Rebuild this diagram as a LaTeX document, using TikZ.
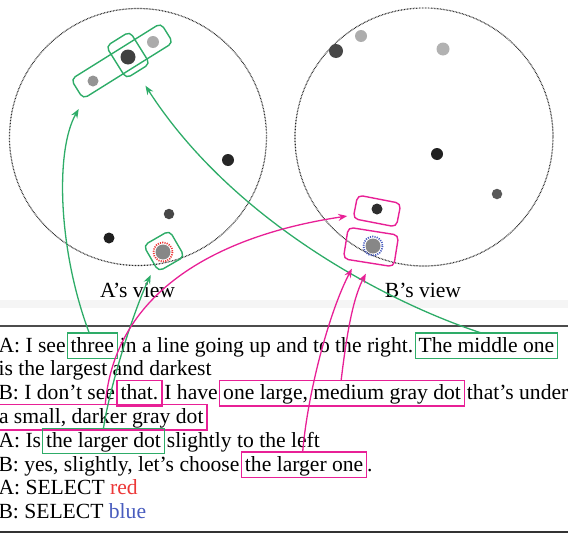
\documentclass[tikz,border=0pt]{standalone}
\usepackage{fontspec}
\setmainfont{Liberation Serif}
\usetikzlibrary{arrows.meta}
\definecolor{refgreen}{RGB}{46,172,104}
\definecolor{refmag}{RGB}{232,32,150}
\definecolor{selred}{RGB}{236,56,56}
\definecolor{selblue}{RGB}{72,92,190}

\begin{document}
\begin{tikzpicture}[x=1pt,y=-1pt,
  dlg/.style={font=\fontsize{21.6}{24}\selectfont, inner sep=0pt, outer sep=0pt, anchor=base west},
  phrase/.style={dlg, draw, line width=1.3pt, inner xsep=3.5pt, inner ysep=3.5pt,
                 text height=15.5pt, text depth=3pt},
  gphrase/.style={phrase, draw=refgreen},
  mphrase/.style={phrase, draw=refmag},
  viewring/.style={draw=black!85, line width=1.2pt, dash pattern=on 0.7pt off 0.8pt},
  dot/.style={circle, inner sep=0pt, outer sep=0pt, minimum size=#1},
  abox/.style={draw=#1, line width=1.4pt, rounded corners=5pt, inner sep=0pt, rectangle},
  selring/.style={draw=#1, line width=1.8pt, dash pattern=on 1.1pt off 1.2pt},
  garrow/.style={draw=refgreen, line width=1.3pt, -{Stealth[length=9pt,width=7pt]}},
  marrow/.style={draw=refmag, line width=1.3pt, -{Stealth[length=9pt,width=7pt]}},
]
\useasboundingbox (0,0) rectangle (568,533);
\fill[black!4] (0,300) rectangle (568,308);

% the two views
\draw[viewring] (138,137) circle [radius=128.5];
\draw[viewring] (424,137) circle [radius=129];

% dots seen by A
\node[dot=11pt, fill=black!42] (a1) at (93,81) {};
\node[dot=15pt, fill=black!75] (a2) at (128,57) {};
\node[dot=12pt, fill=black!33] (a3) at (153,42) {};
\node[dot=12pt, fill=black!85] (a4) at (228,160) {};
\node[dot=10.5pt, fill=black!72] (a5) at (169,214) {};
\node[dot=11pt, fill=black!88] (a6) at (109,238) {};
\node[dot=15pt, fill=black!47] (a7) at (163,252) {};
\draw[selring=selred] (a7.center) circle [radius=9.5];

% dots seen by B
\node[dot=14pt, fill=black!72] (b1) at (336,51) {};
\node[dot=12pt, fill=black!32] (b2) at (361,36) {};
\node[dot=13pt, fill=black!30] (b3) at (443,49) {};
\node[dot=12pt, fill=black!87] (b4) at (437,154) {};
\node[dot=10.5pt, fill=black!65] (b5) at (497,194) {};
\node[dot=11pt, fill=black!82] (b6) at (377,209) {};
\node[dot=15pt, fill=black!47] (b7) at (373,246) {};
\draw[selring=selblue] (b7.center) circle [radius=9.5];

% referent boxes in the views
\node[abox=refgreen, rotate=32, minimum width=106pt, minimum height=23pt] (gl) at (122,61) {};
\node[abox=refgreen, rotate=32, minimum width=28pt, minimum height=38pt] (gm) at (128,55) {};
\node[abox=refgreen, rotate=30, minimum width=30pt, minimum height=30pt] (gr) at (164,251) {};
\node[abox=refmag, rotate=-11, minimum width=44pt, minimum height=24pt] (mu) at (377,211) {};
\node[abox=refmag, rotate=-9, minimum width=51pt, minimum height=32pt] (ml) at (371,247) {};

% view captions
\node[dlg, anchor=base] (alab) at (137.5,297) {A’s view};
\node[dlg, anchor=base] (blab) at (423,297) {B’s view};

% dialogue
\draw[black!70, line width=1.8pt] (0,326) -- (568,326);
\draw[black!80, line width=2pt] (0,531.5) -- (568,531.5);

\node[dlg] (t1a) at (-1.5,352) {A: I see};
\node[gphrase] (three) at ([xshift=1.5pt]t1a.base east) {three};
\node[dlg] (t1b) at ([xshift=2.5pt]three.base east) {in a line going up and to the right.};
\node[gphrase] (tmo) at ([xshift=2pt]t1b.base east) {The middle one};

\node[dlg] (t2) at (-1.5,375.8) {is the largest and darkest};

\node[dlg] (t3a) at (-1.5,399.6) {B: I don’t see};
\node[mphrase] (that) at ([xshift=2pt]t3a.base east) {that.};
\node[dlg] (t3b) at ([xshift=2.5pt]that.base east) {I have};
\node[mphrase] (olm) at ([xshift=2pt]t3b.base east) {one large, medium gray dot};
\node[dlg] (t3c) at ([xshift=2.5pt]olm.base east) {that’s under};

\node[mphrase] (asd) at (-4.5,423.4) {a small, darker gray dot};

\node[dlg] (t5a) at (-1.5,447.2) {A: Is};
\node[gphrase] (tld) at ([xshift=1.5pt]t5a.base east) {the larger dot};
\node[dlg] (t5b) at ([xshift=2.5pt]tld.base east) {slightly to the left};

\node[dlg] (t6a) at (-1.5,471) {B: yes, slightly, let’s choose};
\node[mphrase] (tlo) at ([xshift=2pt]t6a.base east) {the larger one};
\node[dlg] (t6b) at ([xshift=0.3pt]tlo.base east) {.};

\node[dlg] (t7) at (-1.5,494.8) {A: SELECT \textcolor{selred}{red}};
\node[dlg] (t8) at (-1.5,518.6) {B: SELECT \textcolor{selblue}{blue}};

% links from phrases to referents
\draw[garrow] ([xshift=-3pt]three.north) .. controls (58,250) and (55,150) .. ([shift={(-4.2pt,-9.2pt)}]gl.south west);
\draw[garrow] (tld.north) .. controls (110,385) and (134,310) .. ([shift={(-7.5pt,-2.5pt)}]gr.south west);
\draw[garrow] ([xshift=-5pt]tmo.north) .. controls (395,305) and (235,225) .. ([shift={(7pt,-14pt)}]gm.south);
\draw[marrow] ([xshift=4pt]asd.north) .. controls (115,290) and (220,235) .. ([shift={(-5.1pt,3.1pt)}]mu.south west);
\draw[marrow] ([xshift=-1.5pt]tlo.north) .. controls (308,390) and (330,310) .. ([shift={(-16.5pt,-5.2pt)}]ml.south);
\draw[marrow] ([xshift=-1pt]olm.north) .. controls (346,340) and (352,300) .. ([shift={(-2.5pt,-10.2pt)}]ml.south);
\end{tikzpicture}
\end{document}
